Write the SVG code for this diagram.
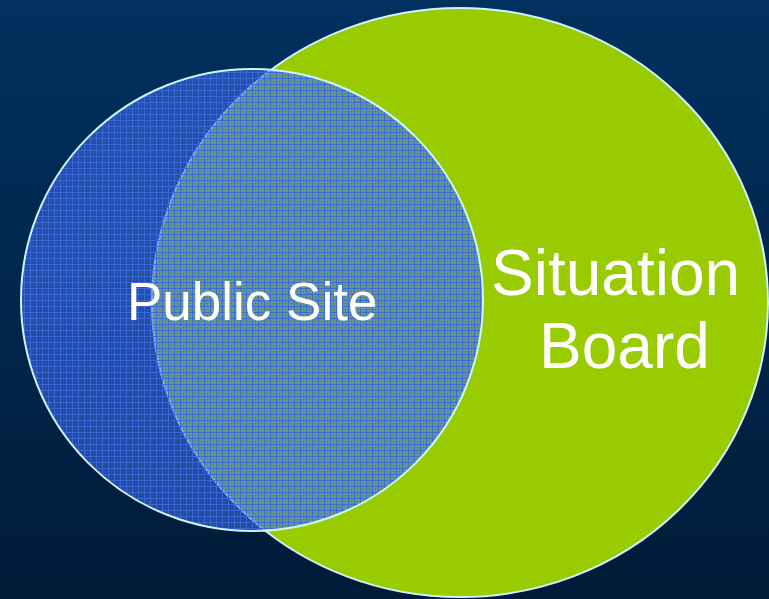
<svg xmlns="http://www.w3.org/2000/svg" width="769" height="599" viewBox="0 0 769 599">
  <defs>
    <linearGradient id="bg" x1="0" y1="0" x2="0" y2="1">
      <stop offset="0" stop-color="#01315f"/>
      <stop offset="1" stop-color="#001b38"/>
    </linearGradient>
    <pattern id="weave" width="6" height="6" patternUnits="userSpaceOnUse">
      <rect width="6" height="6" fill="#3f6fe0" fill-opacity="0.56"/>
      <rect width="6" height="1" fill="#3a68dc" fill-opacity="0.95"/>
      <rect width="1" height="6" fill="#3a68dc" fill-opacity="0.95"/>
      <rect x="3" y="3" width="1" height="1" fill="#3462d0" fill-opacity="0.9"/>
    </pattern>
  </defs>
  <style>
    .ring { stroke: #cdf4ff; stroke-width: 2; }
    .label { font-family: "Liberation Sans", Arial, sans-serif; fill: #ffffff; }
  </style>
  <rect width="769" height="599" fill="url(#bg)"/>
  <g id="situation-board">
    <ellipse cx="460" cy="302.5" rx="308" ry="294.5" fill="#99cc00" class="ring"/>
    <text class="label" x="491" y="295" font-size="64">Situation</text>
    <text class="label" x="539" y="368" font-size="64">Board</text>
  </g>
  <g id="public-site">
    <circle cx="252" cy="300" r="231" fill="url(#weave)" class="ring"/>
    <text class="label" x="127" y="320" font-size="53">Public Site</text>
  </g>
  <g id="connectors"/>
</svg>
